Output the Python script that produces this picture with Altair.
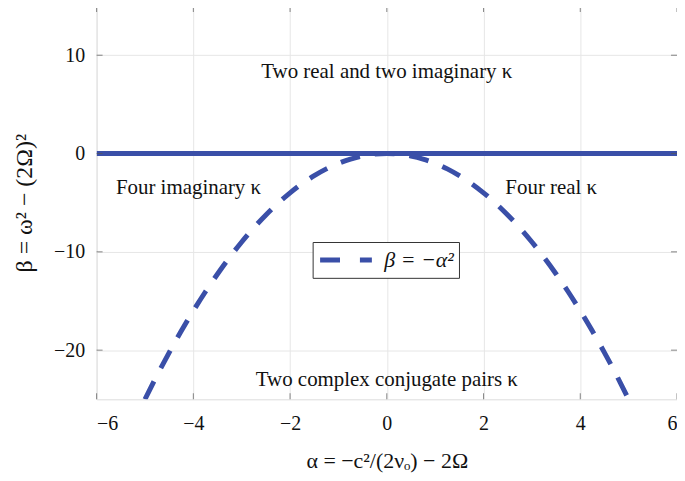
import altair as alt
import pandas as pd

# Dashed curve beta = -alpha^2
alpha = [-5.0, -4.75, -4.5, -4.25, -4.0, -3.75, -3.5, -3.25, -3.0, -2.75, -2.5, -2.25,
         -2.0, -1.75, -1.5, -1.25, -1.0, -0.75, -0.5, -0.25, 0.0, 0.25, 0.5, 0.75, 1.0,
         1.25, 1.5, 1.75, 2.0, 2.25, 2.5, 2.75, 3.0, 3.25, 3.5, 3.75, 4.0, 4.25, 4.5,
         4.75, 5.0]
beta = [-25.0, -22.56, -20.25, -18.06, -16.0, -14.06, -12.25, -10.56, -9.0, -7.56,
        -6.25, -5.06, -4.0, -3.06, -2.25, -1.56, -1.0, -0.56, -0.25, -0.06, 0.0, -0.06,
        -0.25, -0.56, -1.0, -1.56, -2.25, -3.06, -4.0, -5.06, -6.25, -7.56, -9.0, -10.56,
        -12.25, -14.06, -16.0, -18.06, -20.25, -22.56, -25.0]
series_name = "β = −α²"

# Solid line beta = 0
zero_x = [-6, 6]
zero_y = [0, 0]

x_ticks = [-6, -4, -2, 0, 2, 4, 6]
y_ticks = [-20, -10, 0, 10]

note_text = ["Two real and two imaginary κ", "Four imaginary κ", "Four real κ",
             "Two complex conjugate pairs κ"]
note_x = [0.0, -4.1, 3.4, 0.0]
note_y = [8.3, -3.5, -3.5, -23.0]

BLUE = "#3a4fa8"
FONT = "Liberation Serif"
TXT = "#111111"
W, H = 583, 395

curve_df = pd.DataFrame({"a": alpha, "b": beta, "s": [series_name] * len(alpha)})
zero_df = pd.DataFrame({"a": zero_x, "b": zero_y})
notes_df = pd.DataFrame({"t": note_text, "a": note_x, "b": note_y})
xt_df = pd.DataFrame({"v": x_ticks})
yt_df = pd.DataFrame({"v": y_ticks})

xs = alt.Scale(domain=[-6, 6], nice=False, zero=False)
ys = alt.Scale(domain=[-25, 15], nice=False, zero=False)

x_axis = alt.Axis(values=x_ticks, format="d", grid=True, gridColor="#e6e6e6",
                  domain=False, ticks=False, labelFontSize=20, labelFont=FONT,
                  labelColor=TXT, labelPadding=14,
                  title="α = −c²/(2νₒ) − 2Ω", titleFont=FONT, titleFontSize=22,
                  titleFontWeight="normal", titleColor=TXT, titlePadding=18)
y_axis = alt.Axis(values=y_ticks, format="d", grid=True, gridColor="#e6e6e6",
                  domain=False, ticks=False, labelFontSize=20, labelFont=FONT,
                  labelColor=TXT, labelPadding=12,
                  title="β = ω² − (2Ω)²", titleFont=FONT, titleFontSize=24,
                  titleFontWeight="normal", titleColor=TXT, titlePadding=17)

zero_line = alt.Chart(zero_df).mark_line(color=BLUE, strokeWidth=5, clip=True).encode(
    x=alt.X("a:Q", scale=xs, axis=x_axis),
    y=alt.Y("b:Q", scale=ys, axis=y_axis),
)

curve = alt.Chart(curve_df).mark_line(strokeWidth=5, strokeDash=[20, 15], clip=True,
                                      interpolate="monotone").encode(
    x=alt.X("a:Q", scale=xs),
    y=alt.Y("b:Q", scale=ys),
    color=alt.Color("s:N", scale=alt.Scale(range=[BLUE]),
                    legend=alt.Legend(title=None, orient="none", legendX=217, legendY=237,
                                      symbolType="stroke", symbolSize=2704,
                                      symbolStrokeWidth=5, symbolDash=[20, 20],
                                      clipHeight=26,
                                      labelFont=FONT, labelFontSize=22,
                                      labelFontStyle="italic", labelColor=TXT,
                                      strokeColor="#333", fillColor="white",
                                      padding=5, labelOffset=10)),
)

notes = alt.Chart(notes_df).mark_text(font=FONT, fontSize=21, color=TXT).encode(
    x=alt.X("a:Q", scale=xs), y=alt.Y("b:Q", scale=ys), text="t:N")

tick_col = "#555"
bottom_ticks = alt.Chart(xt_df).mark_tick(orient="vertical", size=6, thickness=1,
                                          color=tick_col).encode(
    x=alt.X("v:Q", scale=xs), y=alt.value(H - 3))
top_ticks = alt.Chart(xt_df).mark_tick(orient="vertical", size=6, thickness=1,
                                       color=tick_col).encode(
    x=alt.X("v:Q", scale=xs), y=alt.value(3))
left_ticks = alt.Chart(yt_df).mark_tick(orient="horizontal", size=6, thickness=1,
                                        color=tick_col).encode(
    y=alt.Y("v:Q", scale=ys), x=alt.value(3))
right_ticks = alt.Chart(yt_df).mark_tick(orient="horizontal", size=6, thickness=1,
                                         color=tick_col).encode(
    y=alt.Y("v:Q", scale=ys), x=alt.value(W - 3))

chart = alt.layer(zero_line, curve, notes, bottom_ticks, top_ticks, left_ticks,
                  right_ticks).properties(
    width=W, height=H,
    autosize=alt.AutoSizeParams(type="none"),
    padding={"left": 89, "top": -3, "right": 0, "bottom": 78},
).configure_view(stroke="#444", strokeWidth=1.2).configure(background="white")

chart.save("out.html", embed_options={"renderer": "svg", "actions": False})
